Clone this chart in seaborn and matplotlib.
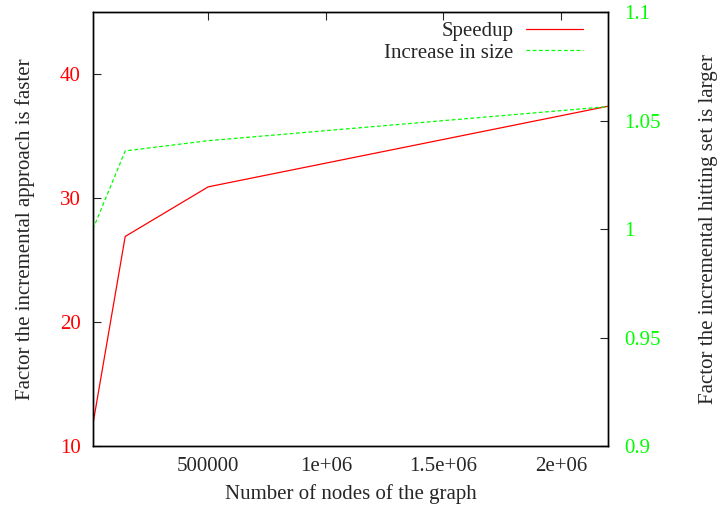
import matplotlib
matplotlib.use("Agg")
import matplotlib.pyplot as plt
import seaborn as sns
import pandas as pd

# values
nodes = [10000, 147000, 500000, 2200000]
speedup = [11.8, 26.9, 30.9, 37.4]
size_increase = [1.0, 1.036, 1.0407, 1.0564]

x_ticks = [500000, 1000000, 1500000, 2000000]
x_tick_labels = ['500000', '1e+06', '1.5e+06', '2e+06']
left_ticks = [10, 20, 30, 40]
right_ticks = [0.9, 0.95, 1.0, 1.05, 1.1]
right_tick_labels = ['0.9', '0.95', '1', '1.05', '1.1']

sns.set_style("white")
plt.rcParams['font.family'] = ['Liberation Serif', 'DejaVu Serif']
fs = 15

df = pd.DataFrame({'nodes': nodes, 'speedup': speedup, 'size': size_increase})

fig = plt.figure(figsize=(7.2, 5.15), dpi=100)
ax = fig.add_axes([93 / 720, 1 - 446 / 515, (608 - 93) / 720, (446 - 12) / 515])
ax2 = ax.twinx()

sns.lineplot(x='nodes', y='speedup', data=df, ax=ax, color='#ff0000', linewidth=0.9, label='Speedup', legend=False)
sns.lineplot(x='nodes', y='size', data=df, ax=ax2, color='#00ff00', linewidth=0.9, label='Increase in size', legend=False)
ax2.lines[0].set_linestyle((0, (3, 2)))

ax.set_xlim(nodes[0], nodes[-1])
ax.set_ylim(10, 45)
ax2.set_ylim(0.9, 1.1)

ax.set_xticks(x_ticks)
ax.set_xticklabels(x_tick_labels)
ax.set_yticks(left_ticks)
ax2.set_yticks(right_ticks)
ax2.set_yticklabels(right_tick_labels)

ax.tick_params(axis='x', direction='in', length=6, top=True, width=0.8, pad=8, labelsize=fs)
ax.tick_params(axis='y', direction='in', length=6, width=0.8, pad=9, labelsize=fs, labelcolor='#ff0000')
ax2.tick_params(axis='y', direction='in', length=6, width=0.8, pad=12, labelsize=fs, labelcolor='#00ff00')

for a in (ax, ax2):
    for s in a.spines.values():
        s.set_linewidth(1.0)
        s.set_color('black')

ax.set_xlabel('Number of nodes of the graph', fontsize=fs, labelpad=6)
ax.set_ylabel('Factor the incremental approach is faster', fontsize=fs, labelpad=18)
ax2.set_ylabel('Factor the incremental hitting set is larger', fontsize=fs, labelpad=27)

handles = [ax.lines[0], ax2.lines[0]]
ax2.legend(handles=handles, labels=['Speedup', 'Increase in size'], loc='upper right',
           bbox_to_anchor=(591 / 720, 1 - 13 / 515), bbox_transform=fig.transFigure,
           frameon=False, markerfirst=False, handlelength=2.7, fontsize=fs,
           borderaxespad=0, labelspacing=0.1, handletextpad=0.63)

fig.savefig('out.png', dpi=100)
